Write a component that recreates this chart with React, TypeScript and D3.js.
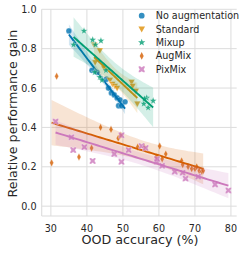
import * as d3 from "d3";

const W = 249;
const H = 253;

// [OOD accuracy %, relative performance gain]
const noAugmentation = [
  [35.0, 0.89], [41.4, 0.69], [42.8, 0.68], [45.4, 0.645], [46.0, 0.6], [46.8, 0.575],
  [47.6, 0.565], [48.4, 0.55], [49.2, 0.54], [48.8, 0.51], [49.6, 0.51], [50.6, 0.53],
];
const standard = [
  [42.0, 0.82], [43.6, 0.79], [42.3, 0.73], [44.8, 0.7], [46.4, 0.64], [47.1, 0.62],
  [47.8, 0.61], [48.4, 0.6], [52.4, 0.63], [52.7, 0.61], [53.6, 0.585], [54.0, 0.52],
];
const mixup = [
  [36.3, 0.82], [39.2, 0.89], [41.6, 0.845], [42.4, 0.82], [43.9, 0.84], [42.2, 0.68],
  [43.6, 0.655], [44.2, 0.64], [45.3, 0.69], [56.6, 0.55], [55.8, 0.52], [57.0, 0.5],
  [58.4, 0.535], [56.0, 0.545],
];
const augMix = [
  [30.2, 0.22], [31.6, 0.66], [37.8, 0.25], [41.3, 0.295], [43.8, 0.4], [46.7, 0.39],
  [48.7, 0.345], [49.4, 0.36], [54.1, 0.3], [55.9, 0.3], [60.2, 0.305], [59.2, 0.25],
  [60.9, 0.24], [61.9, 0.265], [66.3, 0.23], [66.6, 0.21], [68.1, 0.2], [69.1, 0.19],
  [70.0, 0.19], [70.5, 0.2], [71.2, 0.18], [71.9, 0.175], [72.3, 0.18],
];
const pixMix = [
  [31.3, 0.43], [35.7, 0.35], [36.2, 0.285], [39.3, 0.3], [41.6, 0.23], [47.6, 0.265],
  [49.6, 0.36], [49.6, 0.225], [51.6, 0.285], [55.2, 0.305], [56.3, 0.295], [59.4, 0.225],
  [59.5, 0.24], [60.9, 0.205], [64.4, 0.175], [66.6, 0.17], [67.4, 0.14], [70.9, 0.15],
  [75.6, 0.11], [79.3, 0.08],
];

const seriesNames = ["No augmentation", "Standard", "Mixup", "AugMix", "PixMix"];
const seriesData = [noAugmentation, standard, mixup, augMix, pixMix];
const colors = ["#0173B2", "#DE8F05", "#029E73", "#D55E00", "#CC78BC"];
const xTicks = [30, 40, 50, 60, 70, 80];
const yTicks = [0, 0.2, 0.4, 0.6, 0.8, 1.0];

const starPath = (() => {
  const pts: string[] = [];
  for (let i = 0; i < 10; i++) {
    const r = i % 2 === 0 ? 3.8 : 1.6;
    const a = (Math.PI / 5) * i - Math.PI / 2;
    pts.push(`${r * Math.cos(a)},${r * Math.sin(a)}`);
  }
  return "M" + pts.join("L") + "Z";
})();

// marker shapes, one per series
const markers = [
  "M2.9,0A2.9,2.9,0,1,1,-2.9,0A2.9,2.9,0,1,1,2.9,0Z",
  "M-3.3,-2.6L3.3,-2.6L0,3.4Z",
  starPath,
  "M0,-3.8L2,0L0,3.8L-2,0Z",
  "M-3,-3L-1.6,-3L0,-1.9L1.6,-3L3,-3L3,-1.6L1.9,0L3,1.6L3,3L1.6,3L0,1.9L-1.6,3L-3,3L-3,1.6L-1.9,0L-3,-1.6Z",
];

// seaborn's bootstrapped band is wider than the analytic one near the ends
const BAND_SCALE = 1.45;

function fit(pts: number[][]) {
  const n = pts.length;
  const mx = d3.mean(pts, (d) => d[0])!;
  const my = d3.mean(pts, (d) => d[1])!;
  const sxx = d3.sum(pts, (d) => (d[0] - mx) ** 2);
  const sxy = d3.sum(pts, (d) => (d[0] - mx) * (d[1] - my));
  const b = sxy / sxx;
  const a = my - b * mx;
  const sse = d3.sum(pts, (d) => (d[1] - (a + b * d[0])) ** 2);
  const s = Math.sqrt(sse / (n - 2));
  const t = (1.96 + 2.4 / (n - 2)) * BAND_SCALE;
  const [x0, x1] = d3.extent(pts, (d) => d[0]) as [number, number];
  const grid = d3.range(0, 51).map((i) => x0 + ((x1 - x0) * i) / 50);
  return grid.map((x) => {
    const y = a + b * x;
    const se = s * Math.sqrt(1 / n + (x - mx) ** 2 / sxx);
    return { x, y, lo: y - t * se, hi: y + t * se };
  });
}

export default function App() {
  const left = 41.7;
  const right = 236.7;
  const top = 9.3;
  const bottom = 216;
  const x = d3.scaleLinear().domain([27.45, 81.6]).range([left, right]);
  const y = d3.scaleLinear().domain([-0.05, 1.0]).range([bottom, top]);

  const area = d3
    .area<{ x: number; lo: number; hi: number }>()
    .x((d) => x(d.x))
    .y0((d) => y(d.lo))
    .y1((d) => y(d.hi));
  const line = d3
    .line<{ x: number; y: number }>()
    .x((d) => x(d.x))
    .y((d) => y(d.y));

  const font = "DejaVu Sans, sans-serif";
  const grid = "#dcdcdc";

  return (
    <svg
      width={W}
      height={H}
      style={{ position: "absolute", left: 0, top: 0 }}
      fontFamily={font}
    >
      <rect width={W} height={H} fill="#fff" />
      <defs>
        <clipPath id="plot">
          <rect x={left} y={0} width={right - left} height={bottom} />
        </clipPath>
      </defs>
      {xTicks.map((t) => (
        <g key={"x" + t}>
          <line x1={x(t)} x2={x(t)} y1={top} y2={bottom} stroke={grid} strokeWidth={1} />
          <text x={x(t)} y={231.5} textAnchor="middle" fontSize={9.6} fill="#262626">
            {t}
          </text>
        </g>
      ))}
      {yTicks.map((t) => (
        <g key={"y" + t}>
          <line x1={left} x2={right} y1={y(t)} y2={y(t)} stroke={grid} strokeWidth={1} />
          <text x={36.5} y={y(t) + 3.5} textAnchor="end" fontSize={9.6} fill="#262626">
            {t.toFixed(1)}
          </text>
        </g>
      ))}
      <line x1={left} x2={left} y1={top} y2={bottom} stroke={grid} strokeWidth={1.1} />
      <line x1={left} x2={right} y1={bottom} y2={bottom} stroke={grid} strokeWidth={1.1} />

      <g clipPath="url(#plot)">
        {seriesData.map((pts, i) => {
          const f = fit(pts);
          return (
            <g key={seriesNames[i]}>
              <path d={area(f)!} fill={colors[i]} fillOpacity={0.17} />
              {pts.map((p, j) => (
                <path
                  key={j}
                  d={markers[i]}
                  transform={`translate(${x(p[0])},${y(p[1])})`}
                  fill={colors[i]}
                  fillOpacity={0.8}
                  stroke="#fff"
                  strokeWidth={0.3}
                />
              ))}
              <path d={line(f)!} fill="none" stroke={colors[i]} strokeWidth={1.9} />
            </g>
          );
        })}
      </g>

      {seriesNames.map((name, i) => (
        <g key={"leg" + name} transform={`translate(141.7,${15.7 + i * 13.4})`}>
          <path d={markers[i]} fill={colors[i]} fillOpacity={0.8} />
          <text x={14} y={3.5} fontSize={9.6} fill="#262626">
            {name}
          </text>
        </g>
      ))}

      <text x={140} y={244} textAnchor="middle" fontSize={12.7} fill="#262626">
        OOD accuracy (%)
      </text>
      <text
        transform={`translate(16.5,${(top + bottom) / 2 + 1}) rotate(-90)`}
        textAnchor="middle"
        fontSize={12.7}
        fill="#262626"
      >
        Relative performance gain
      </text>
    </svg>
  );
}
